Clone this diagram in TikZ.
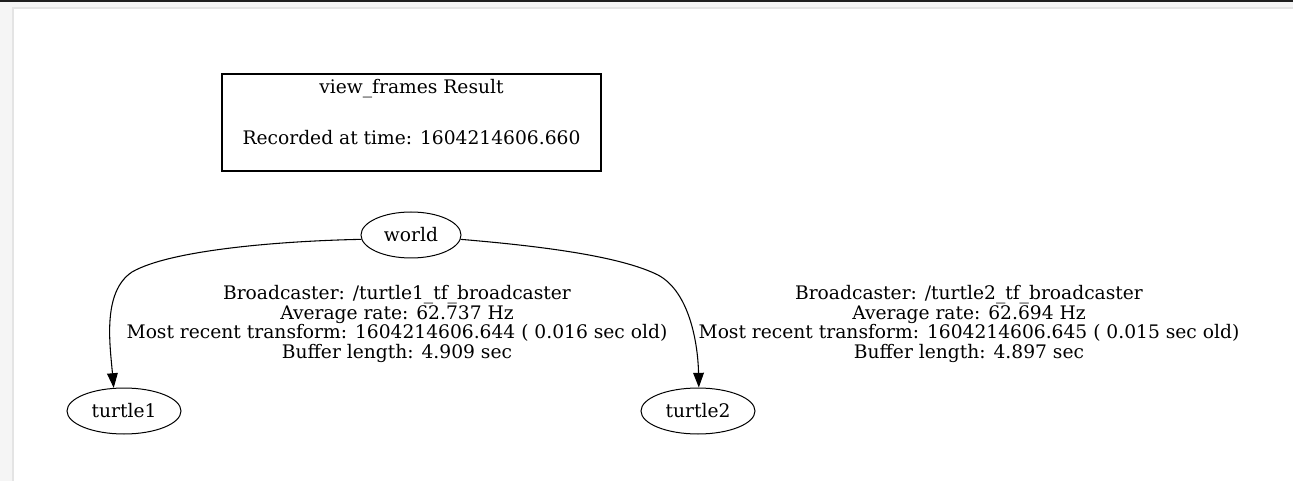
\documentclass[tikz,border=0pt]{standalone}
\usepackage{fontspec}
\setmainfont{DejaVu Serif}
\usetikzlibrary{arrows.meta,shapes.geometric}
\definecolor{pagegray}{RGB}{245,245,245}
\definecolor{shadowgray}{RGB}{228,228,228}
\definecolor{barblack}{RGB}{30,30,30}

\begin{document}
\begin{tikzpicture}[x=0.75pt,y=-0.75pt]
\tikzstyle{every node}=[font=\fontsize{14}{14.7}\selectfont]
\tikzstyle{frame}=[draw,ellipse,line width=0.75pt,inner sep=0pt,minimum height=34.5pt]
\tikzstyle{edge}=[line width=0.8pt,-{Triangle[length=11pt,width=8pt]}]
\tikzstyle{info}=[align=center,inner sep=0pt]

\useasboundingbox (0,0) rectangle (1293,481);
\fill[pagegray] (0,0) rectangle (1293,481);
\fill[barblack] (0,0) rectangle (1293,2);
\fill[shadowgray] (12,7) rectangle (1293,481);
\fill[white] (14,9) rectangle (1293,481);

\node[draw,line width=1.9pt,minimum width=284pt,minimum height=72.75pt] (result) at (411.5,122.5) {};
\node[info] (resulttext) at (411.5,112) {view\_frames Result\\[23pt]Recorded at time: 1604214606.660};

\node[frame,minimum width=75pt] (world) at (411,235) {world};
\node[frame,minimum width=85.5pt] (turtle1) at (124,411) {turtle1};
\node[frame,minimum width=85.5pt] (turtle2) at (698,411) {turtle2};

\draw[edge] (world.185) .. controls (280,241) and (170,250) .. (132,272)
  .. controls (102,292) and (110,345) .. (turtle1.114);
\draw[edge] (world.-5) .. controls (540,246) and (620,256) .. (658,275)
  .. controls (690,292) and (698,345) .. (turtle2.88);

\node[info] (info1) at (397,324) {Broadcaster: /turtle1\_tf\_broadcaster\\Average rate: 62.737 Hz\\Most recent transform: 1604214606.644 ( 0.016 sec old)\\Buffer length: 4.909 sec};
\node[info] (info2) at (969,324) {Broadcaster: /turtle2\_tf\_broadcaster\\Average rate: 62.694 Hz\\Most recent transform: 1604214606.645 ( 0.015 sec old)\\Buffer length: 4.897 sec};
\end{tikzpicture}
\end{document}
